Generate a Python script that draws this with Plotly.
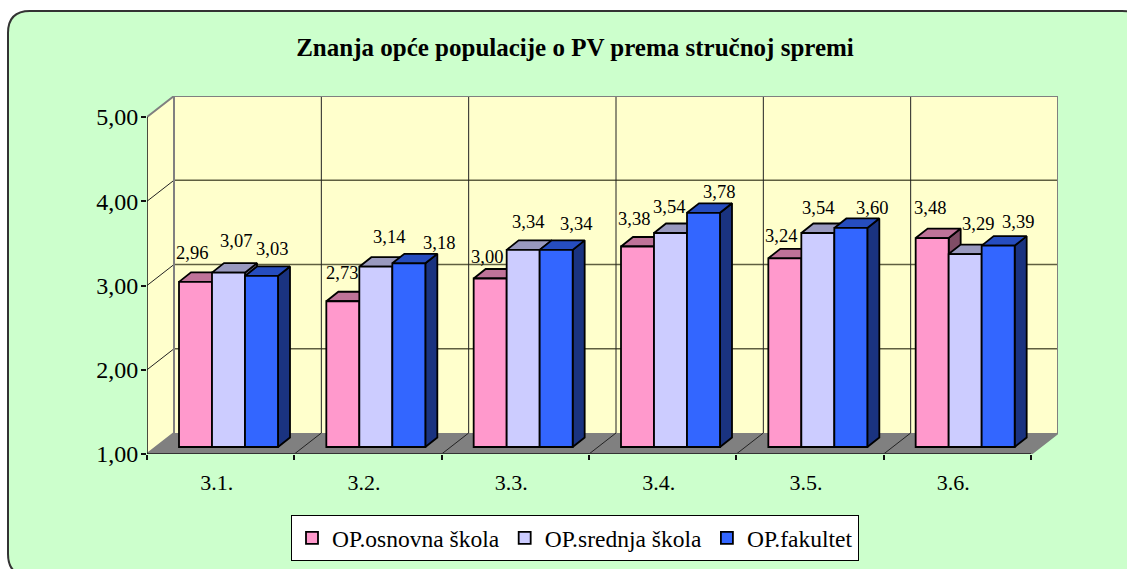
import plotly.graph_objects as go

categories = ["3.1.", "3.2.", "3.3.", "3.4.", "3.5.", "3.6."]
series_names = ["OP.osnovna škola", "OP.srednja škola", "OP.fakultet"]
osnovna = [2.96, 2.73, 3.00, 3.38, 3.24, 3.48]
srednja = [3.07, 3.14, 3.34, 3.54, 3.54, 3.29]
fakultet = [3.03, 3.18, 3.34, 3.78, 3.60, 3.39]
y_ticks = [1, 2, 3, 4, 5]
y_tick_labels = ["1,00", "2,00", "3,00", "4,00", "5,00"]

W, H = 1127, 569
X0, X1, XB = 147, 1031, 1058      # pixel frame of the axes
Y0, YT, YB = 454, 117, 96
PX = (X1 - X0) / len(categories)  # pixels per category
PY = (Y0 - YT) / 4                # pixels per value unit
DX = (XB - X1) / PX               # floor depth in axis units
DY = (YT - YB) / PY
N = len(categories)

front_colors = ["#FF99CC", "#CCCCFF", "#3366FF"]
top_colors = ["#BF7399", "#9999BF", "#264DBF"]
side_colors = ["#804D66", "#666680", "#1A3380"]

BAR_W = 33 / PX
GAP = 32 / PX
BX = 7 / PX       # offset of bar front from the axis plane
BY = 7 / PY
SX = 12 / PX      # bar depth
SY = 9.5 / PY

# per-label nudges in pixels (x, y) from the bar's top centre
nudges = [
    [(-3.5, 29), (7.5, 31.5), (10.5, 27)],
    [(-1, 28), (13, 30), (30, 20)],
    [(-3, 21.5), (5, 28), (20, 26)],
    [(-3.5, 27.5), (-1.5, 26), (15.5, 21)],
    [(-4, 22), (0, 25), (21, 20)],
    [(-2, 30), (13, 30), (20, 24)],
]

FONT = "Liberation Serif"
fig = go.Figure()


def poly(xs, ys, fill, line=None, lw=0):
    fig.add_trace(go.Scatter(x=xs, y=ys, mode="lines", fill="toself", fillcolor=fill,
                             line=dict(color=line or fill, width=lw), showlegend=False,
                             hoverinfo="skip", cliponaxis=False))


def seg(xs, ys, color, lw):
    fig.add_trace(go.Scatter(x=xs, y=ys, mode="lines", line=dict(color=color, width=lw),
                             showlegend=False, hoverinfo="skip", cliponaxis=False))


# walls and floor
poly([DX, N + DX, N + DX, DX, DX], [1 + DY, 1 + DY, 5 + DY, 5 + DY, 1 + DY], "#FFFFCC")
poly([0, DX, DX, 0, 0], [1, 1 + DY, 5 + DY, 5, 1], "#FFFFCC")
poly([0, N, N + DX, DX, 0], [1, 1, 1 + DY, 1 + DY, 1], "#808080")

for v in y_ticks[1:-1]:
    seg([DX, N + DX], [v + DY, v + DY], "#5F5F40", 1.3)
    seg([0, DX], [v, v + DY], "#222222", 1)
for i in range(1, N):
    seg([i + DX, i + DX], [1 + DY, 5 + DY], "#222222", 1)
    seg([i, i + DX], [1, 1 + DY], "#222222", 1)
seg([0, DX, DX], [1, 1 + DY, 5 + DY], "#808080", 2)
seg([0, DX, N + DX, N + DX, N], [5, 5 + DY, 5 + DY, 1 + DY, 1], "#808080", 2)
seg([0, N], [1, 1], "#333333", 2.2)
seg([0, 0], [1, 5], "#111111", 1.5)

all_values = [osnovna, srednja, fakultet]


def left(i, j):
    return i + GAP + j * BAR_W


# bar sides and tops, back layer
for j, vals in enumerate(all_values):
    sx, sy, tx, ty = [], [], [], []
    for i, v in enumerate(vals):
        xr = left(i, j) + BAR_W
        xl = left(i, j)
        yb = 1 + BY
        yt = v + BY
        sx += [xr, xr + SX, xr + SX, xr, xr, None]
        sy += [yb, yb + SY, yt + SY, yt, yb, None]
        tx += [xl, xl + SX, xr + SX, xr, xl, None]
        ty += [yt, yt + SY, yt + SY, yt, yt, None]
    poly(sx, sy, side_colors[j], "#000000", 1.8)
    poly(tx, ty, top_colors[j], "#000000", 1.8)

# front faces on an overlaid subplot
for j, (name, vals) in enumerate(zip(series_names, all_values)):
    fig.add_trace(go.Bar(
        x=[left(i, j) + BAR_W / 2 for i in range(N)],
        y=[v - 1 for v in vals],
        base=1 + BY,
        width=BAR_W,
        name=name,
        marker=dict(color=front_colors[j], line=dict(color="#000000", width=1.8)),
        xaxis="x2", yaxis="y2",
    ))

annotations = []
for j, vals in enumerate(all_values):
    for i, v in enumerate(vals):
        annotations.append(dict(
            x=left(i, j) + BAR_W / 2, y=v + BY, xref="x2", yref="y2",
            text=f"{v:.2f}".replace(".", ","), showarrow=False,
            xshift=nudges[i][j][0], yshift=nudges[i][j][1],
            xanchor="center", yanchor="middle",
            font=dict(family=FONT, size=18.5, color="#000000"),
        ))

# rounded chart frame (runs off the right and bottom of the page)
xl, yt, xr, yb, r = 8 / W, 1 - 11 / H, 1144 / W, 1 - 576 / H, 22
rx, ry = r / W, r / H
frame = (f"M {xl+rx} {yt} L {xr-rx} {yt} Q {xr} {yt} {xr} {yt-ry} L {xr} {yb+ry} "
         f"Q {xr} {yb} {xr-rx} {yb} L {xl+rx} {yb} Q {xl} {yb} {xl} {yb+ry} "
         f"L {xl} {yt-ry} Q {xl} {yt} {xl+rx} {yt} Z")

x_range = [0, N + DX]
y_range = [1, 5 + DY]
x_dom = [X0 / W, XB / W]
y_dom = [1 - Y0 / H, 1 - YB / H]

fig.update_layout(
    width=W, height=H, autosize=False,
    margin=dict(l=0, r=0, t=0, b=0, autoexpand=False),
    paper_bgcolor="#FFFFFF", plot_bgcolor="rgba(0,0,0,0)",
    font=dict(family=FONT, color="#000000"),
    title=dict(text="<b>Znanja opće populacije o PV prema stručnoj spremi</b>",
               x=575 / W, xanchor="center", y=1 - 47 / H, yanchor="middle",
               font=dict(family=FONT, size=25, color="#000000")),
    xaxis=dict(domain=x_dom, range=x_range, showgrid=False, zeroline=False, showline=False,
               tickmode="array", tickvals=[i + 0.5 - 4 / PX for i in range(N)], ticktext=categories,
               ticks="", ticklabelstandoff=13,
               tickfont=dict(family=FONT, size=22, color="#000000"),
               minor=dict(tickmode="array", tickvals=list(range(N + 1)), ticks="outside",
                          ticklen=5, tickwidth=1.5, tickcolor="#111111", showgrid=False)),
    yaxis=dict(domain=y_dom, range=y_range, showgrid=False, zeroline=False, showline=False,
               tickmode="array", tickvals=y_ticks, ticktext=y_tick_labels,
               ticks="outside", ticklen=5, tickwidth=1.5, tickcolor="#111111",
               ticklabelstandoff=-2,
               tickfont=dict(family=FONT, size=24, color="#000000")),
    xaxis2=dict(domain=x_dom, range=x_range, overlaying="x", visible=False, anchor="y2"),
    yaxis2=dict(domain=y_dom, range=y_range, overlaying="y", visible=False, anchor="x2"),
    barmode="overlay",
    legend=dict(orientation="h", x=291 / W, xanchor="left", y=1 - 515 / H, yanchor="top",
                bgcolor="#FFFFFF", bordercolor="#000000", borderwidth=1,
                traceorder="normal", font=dict(family=FONT, size=23.5, color="#000000")),
    annotations=annotations,
    shapes=[dict(type="path", xref="paper", yref="paper", path=frame, layer="below",
                 fillcolor="#CCFFCC", line=dict(color="#333333", width=2))],
)

fig.write_html("out.html", config={"displayModeBar": False},
               post_script="document.body.style.margin='0';")
